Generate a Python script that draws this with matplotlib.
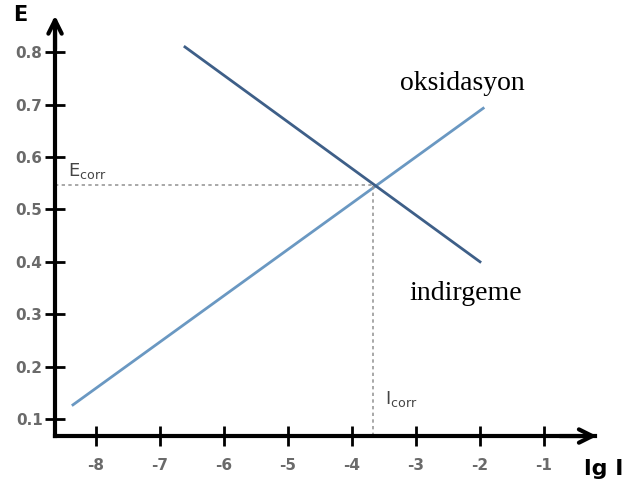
import numpy as np
import matplotlib.pyplot as plt

# Tafel lines: log current vs potential
ox_lgI = [-8.36, -1.95]
ox_E = [0.127, 0.693]
red_lgI = [-6.61, -2.0]
red_E = [0.81, 0.40]

# corrosion point
lgI_corr = -3.67
E_corr = 0.547

xticks = [-8, -7, -6, -5, -4, -3, -2, -1]
yticks = [0.1, 0.2, 0.3, 0.4, 0.5, 0.6, 0.7, 0.8]

x0, y0 = -8.64, 0.0675   # where the two axes meet

fig = plt.figure(figsize=(6.24, 4.93), dpi=100)
ax = fig.add_axes([0, 0, 1, 1])
ax.set_xlim(-9.5, 0.25)
ax.set_ylim(-0.0412, 0.8996)

for side in ['top', 'right']:
    ax.spines[side].set_visible(False)
ax.spines['left'].set_position(('data', x0))
ax.spines['bottom'].set_position(('data', y0))
ax.spines['left'].set_bounds(y0, 0.86)
ax.spines['bottom'].set_bounds(x0, -0.2)
for side in ['left', 'bottom']:
    ax.spines[side].set_linewidth(3)

# arrow heads
ax.annotate('', xy=(x0, 0.875), xytext=(x0, 0.80),
            arrowprops=dict(arrowstyle='->', lw=3, mutation_scale=24, color='black'))
ax.annotate('', xy=(-0.13, y0), xytext=(-0.8, y0),
            arrowprops=dict(arrowstyle='->', lw=3, mutation_scale=24, color='black'))

ax.set_xticks(xticks)
ax.set_xticklabels([str(t) for t in xticks])
ax.set_yticks(yticks)
ax.set_yticklabels([f'{t:.1f}' for t in yticks])
ax.tick_params(direction='inout', length=14, width=2, labelsize=11,
               labelcolor='#6a6a6a', color='black')
for lab in ax.get_xticklabels() + ax.get_yticklabels():
    lab.set_fontweight('bold')
ax.tick_params(axis='x', pad=9)
ax.tick_params(axis='y', pad=2)

ax.plot(ox_lgI, ox_E, color='#6a98c2', lw=2)
ax.plot(red_lgI, red_E, color='#3e5f88', lw=2)

# guide lines to the corrosion point
ax.plot([x0, lgI_corr], [E_corr, E_corr], color='#999999', lw=1.2, ls=(0, (2, 2)))
ax.plot([lgI_corr, lgI_corr], [y0, E_corr], color='#999999', lw=1.2, ls=(0, (2, 2)))

ax.text(-9.19, 0.871, 'E', fontsize=15, fontweight='bold', ha='center', va='center')
ax.text(-0.38, 0.005, 'lg I', fontsize=16, fontweight='bold', ha='left', va='center')
ax.text(-8.44, 0.573, r'E$_{\mathrm{corr}}$', fontsize=13, color='#444444', ha='left', va='center')
ax.text(-3.48, 0.138, r'I$_{\mathrm{corr}}$', fontsize=13, color='#444444', ha='left', va='center')

ax.text(-2.28, 0.741, 'oksidasyon', family='Liberation Serif', fontsize=20, ha='center', va='center')
ax.text(-2.23, 0.34, 'indirgeme', family='Liberation Serif', fontsize=20, ha='center', va='center')

fig.savefig('out.png', dpi=100)
